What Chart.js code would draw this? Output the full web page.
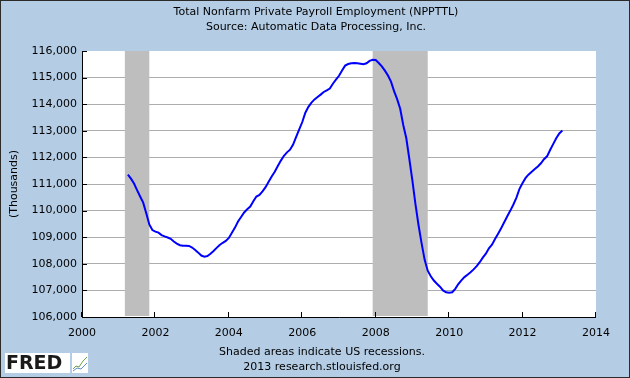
<!DOCTYPE html>
<html>
<head>
<meta charset="utf-8">
<script src="https://cdn.jsdelivr.net/npm/chart.js@4.4.0/dist/chart.umd.min.js"></script>
<style>
  html, body { margin: 0; padding: 0; background: #B4CDE5; }
  canvas { display: block; }
</style>
</head>
<body>
<canvas id="payroll" width="630" height="378"></canvas>
<script>
// Monthly ADP private payroll, thousands, from April 2001.
var startYear = 2001;
var startMonth = 4;
var payroll = [
    111350, 111200, 111020, 110770, 110530, 110300, 109900, 109480, 109270,                 // 2001
    109210, 109170, 109080, 109030, 108990, 108940, 108840, 108760, 108700, 108680, 108680, 108670, // 2002
    108610, 108520, 108420, 108310, 108270, 108290, 108380, 108480, 108600, 108710, 108790, 108860, // 2003
    108970, 109170, 109360, 109590, 109760, 109930, 110050, 110150, 110350, 110530, 110590, 110720, // 2004
    110880, 111080, 111280, 111460, 111680, 111880, 112060, 112190, 112290, 112480, 112770, 113050, // 2005
    113330, 113680, 113900, 114060, 114180, 114270, 114360, 114460, 114520, 114590, 114770, 114920, // 2006
    115070, 115270, 115450, 115510, 115540, 115550, 115540, 115520, 115500, 115540, 115630, 115670, // 2007
    115660, 115550, 115420, 115260, 115080, 114850, 114490, 114190, 113830, 113220, 112720, 111930, // 2008
    111120, 110230, 109450, 108770, 108150, 107740, 107530, 107370, 107250, 107140, 107000, 106930, // 2009
    106910, 106930, 107060, 107240, 107380, 107500, 107590, 107680, 107790, 107910, 108060, 108230, // 2010
    108380, 108580, 108720, 108930, 109130, 109340, 109560, 109790, 110000, 110230, 110490, 110820, // 2011
    111040, 111230, 111360, 111460, 111560, 111660, 111780, 111930, 112040, 112280, 112500, 112720, // 2012
    112900, 113010                                                                          // 2013
];

// Recession bands, decimal years
var recessionStarts = [2001.167, 2007.917];
var recessionEnds = [2001.833, 2009.417];

// Axis ticks
var xTickYears = [2000, 2002, 2004, 2006, 2008, 2010, 2012, 2014];
var yTickValues = [106000, 107000, 108000, 109000, 110000, 111000, 112000, 113000, 114000, 115000, 116000];

var font = 'DejaVu Sans, Verdana, sans-serif';

var points = payroll.map(function (v, i) {
    return { x: startYear + (startMonth - 1 + i) / 12, y: v };
});

// Backgrounds, recession shading, inward ticks and all the captions.
var fredPlugin = {
    id: 'fredLook',
    beforeDraw: function (chart) {
        var c = chart.ctx, a = chart.chartArea;
        c.save();
        c.fillStyle = '#B4CDE5';
        c.fillRect(0, 0, chart.width, chart.height);
        c.fillStyle = '#FFFFFF';
        c.fillRect(a.left, a.top, a.right - a.left, a.bottom - a.top);
        c.restore();
    },
    beforeDatasetsDraw: function (chart) {
        var c = chart.ctx, a = chart.chartArea, xs = chart.scales.x;
        c.save();
        c.fillStyle = '#BEBEBE';
        for (var i = 0; i < recessionStarts.length; i++) {
            var x0 = xs.getPixelForValue(recessionStarts[i]);
            var x1 = xs.getPixelForValue(recessionEnds[i]);
            c.fillRect(x0, a.top, x1 - x0, a.bottom - a.top - 1);
        }
        c.restore();
    },
    afterDraw: function (chart) {
        var c = chart.ctx, a = chart.chartArea;
        var xs = chart.scales.x, ys = chart.scales.y;
        c.save();
        c.strokeStyle = '#000000';
        c.lineWidth = 1;
        c.beginPath();
        // axes
        c.moveTo(a.left + 0.5, a.top);
        c.lineTo(a.left + 0.5, a.bottom + 0.5);
        c.lineTo(a.right, a.bottom + 0.5);
        // inward ticks
        yTickValues.forEach(function (v) {
            var y = Math.round(ys.getPixelForValue(v)) + 0.5;
            c.moveTo(a.left, y);
            c.lineTo(a.left + 5, y);
        });
        xTickYears.forEach(function (yr) {
            var x = Math.round(xs.getPixelForValue(yr)) - 0.5;
            c.moveTo(x, a.bottom);
            c.lineTo(x, a.bottom - 5);
        });
        c.stroke();

        // titles
        c.fillStyle = '#000000';
        c.textAlign = 'center';
        c.textBaseline = 'middle';
        c.font = '11px ' + font;
        c.fillText('Total Nonfarm Private Payroll Employment (NPPTTL)', 316, 12);
        c.fillText('Source: Automatic Data Processing, Inc.', 316, 27);
        c.fillText('Shaded areas indicate US recessions.', 322, 352);
        c.fillText('2013 research.stlouisfed.org', 322, 367);

        // y axis title
        c.save();
        c.translate(14, 184);
        c.rotate(-Math.PI / 2);
        c.fillText('(Thousands)', 0, 0);
        c.restore();

        // FRED logo
        c.fillStyle = '#FFFFFF';
        c.fillRect(5, 353, 65, 20);
        c.fillRect(72, 353, 16, 20);
        c.fillStyle = '#1A1A1A';
        c.textAlign = 'left';
        c.font = 'bold 19px ' + font;
        c.fillText('FRED', 6, 364);
        c.lineWidth = 1;
        c.strokeStyle = '#6FA34A';
        c.beginPath();
        c.moveTo(73, 369); c.lineTo(76, 366); c.lineTo(79, 367); c.lineTo(83, 361); c.lineTo(87, 357);
        c.stroke();
        c.strokeStyle = '#5C8FC9';
        c.beginPath();
        c.moveTo(73, 371); c.lineTo(77, 368); c.lineTo(81, 369); c.lineTo(87, 363);
        c.stroke();

        // outer frame
        c.strokeStyle = '#2B2B2B';
        c.strokeRect(0.5, 0.5, chart.width - 1, chart.height - 1);
        c.restore();
    }
};

new Chart(document.getElementById('payroll').getContext('2d'), {
    type: 'line',
    data: {
        datasets: [{
            label: 'NPPTTL',
            data: points,
            borderColor: '#0000FF',
            borderWidth: 2,
            pointRadius: 0,
            tension: 0,
            fill: false
        }]
    },
    options: {
        responsive: false,
        animation: false,
        layout: { padding: { left: 0, top: 51, right: 34, bottom: 0 } },
        plugins: { legend: { display: false }, tooltip: { enabled: false } },
        scales: {
            x: {
                type: 'linear',
                min: 2000,
                max: 2014,
                afterBuildTicks: function (scale) {
                    scale.ticks = xTickYears.map(function (v) { return { value: v }; });
                },
                afterFit: function (scale) { scale.height = 61; },
                grid: { display: false, drawTicks: false },
                border: { display: false },
                ticks: {
                    padding: 10,
                    maxRotation: 0,
                    color: '#000000',
                    font: { family: font, size: 11 },
                    callback: function (v) { return String(v); }
                }
            },
            y: {
                min: 106000,
                max: 116000,
                afterBuildTicks: function (scale) {
                    scale.ticks = yTickValues.map(function (v) { return { value: v }; });
                },
                afterFit: function (scale) { scale.width = 82; },
                grid: {
                    drawTicks: false,
                    lineWidth: 1,
                    color: function (ctx) {
                        var v = ctx.tick && ctx.tick.value;
                        return (v === 116000 || v === 106000) ? 'rgba(0,0,0,0)' : '#ADADAD';
                    }
                },
                border: { display: false },
                ticks: {
                    padding: 5,
                    color: '#000000',
                    font: { family: font, size: 11 },
                    callback: function (v) { return v.toLocaleString('en-US'); }
                }
            }
        }
    },
    plugins: [fredPlugin]
});
</script>
</body>
</html>
